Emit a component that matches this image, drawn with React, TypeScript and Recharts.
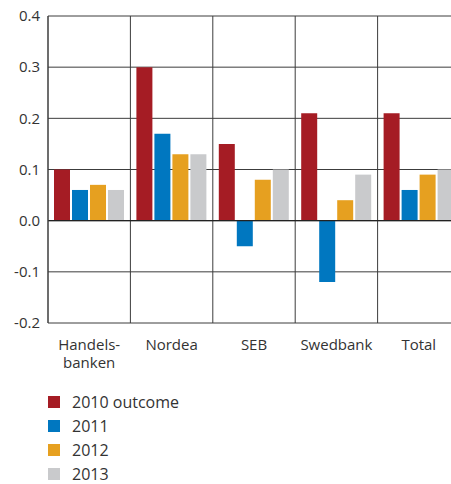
import React from 'react';
import { BarChart, Bar, XAxis, YAxis, CartesianGrid, ReferenceLine } from 'recharts';

const categories = ['Handels-\nbanken', 'Nordea', 'SEB', 'Swedbank', 'Total'];
const outcome2010 = [0.10, 0.30, 0.15, 0.21, 0.21];
const values2011 = [0.06, 0.17, -0.05, -0.12, 0.06];
const values2012 = [0.07, 0.13, 0.08, 0.04, 0.09];
const values2013 = [0.06, 0.13, 0.10, 0.09, 0.10];
const yTicks = [-0.2, -0.1, 0, 0.1, 0.2, 0.3, 0.4];

const series = [
  { key: 'y2010', name: '2010 outcome', color: '#A51C24' },
  { key: 'y2011', name: '2011', color: '#0077C0' },
  { key: 'y2012', name: '2012', color: '#E6A020' },
  { key: 'y2013', name: '2013', color: '#C9CACC' },
];

const data = categories.map((name, i) => ({
  name,
  y2010: outcome2010[i],
  y2011: values2011[i],
  y2012: values2012[i],
  y2013: values2013[i],
}));

const FONT = '"Open Sans", sans-serif';
const GRID = '#3c3c3c';

// two-line category labels ("Handels-\nbanken")
const CategoryTick = (props: any) => {
  const { x, y, payload } = props;
  const lines = String(payload.value).split('\n');
  return (
    <text x={x} y={y} textAnchor="middle" fill="#333" fontSize={15} fontFamily={FONT}>
      {lines.map((line, i) => (
        <tspan key={i} x={x} dy={i === 0 ? 19 : 18}>{line}</tspan>
      ))}
    </text>
  );
};

// vertical lines sit on category boundaries, not centres
const boundaryLines = ({ offset }: any) => {
  const step = offset.width / categories.length;
  return categories.map((_, i) => offset.left + step * (i + 1));
};

export default function App() {
  return (
    <div style={{ position: 'absolute', left: 0, top: 0, width: 451, height: 484, overflow: 'hidden', background: '#fff' }}>
      <BarChart
        width={470}
        height={380}
        data={data}
        margin={{ top: 16, right: 10, left: 8, bottom: 17 }}
        barSize={16}
        barGap={2}
      >
        <CartesianGrid stroke={GRID} strokeWidth={1} verticalCoordinatesGenerator={boundaryLines} />
        <XAxis
          dataKey="name"
          interval={0}
          axisLine={false}
          tickLine={false}
          tick={<CategoryTick />}
          height={40}
        />
        <YAxis
          domain={[-0.2, 0.4]}
          ticks={yTicks}
          width={40}
          axisLine={{ stroke: GRID, strokeWidth: 1.5 }}
          tickLine={false}
          tickSize={0}
          tickMargin={8}
          tickFormatter={(v: number) => v.toFixed(1)}
          tick={{ fill: '#333', fontSize: 15, fontFamily: FONT }}
        />
        <ReferenceLine y={0} stroke="#222" strokeWidth={1.2} />
        {series.map((s) => (
          <Bar key={s.key} dataKey={s.key} name={s.name} fill={s.color} isAnimationActive={false} />
        ))}
      </BarChart>
      <div style={{ position: 'absolute', left: 48, top: 394.5, fontFamily: FONT, fontSize: 16, color: '#333' }}>
        {series.map((s, i) => (
          <div
            key={s.key}
            style={{ display: 'flex', alignItems: 'center', height: 14, lineHeight: '14px', marginBottom: i < series.length - 1 ? 10 : 0 }}
          >
            <span style={{ width: 12, height: 12, background: s.color, display: 'inline-block', marginRight: 12 }} />
            <span>{s.name}</span>
          </div>
        ))}
      </div>
    </div>
  );
}
